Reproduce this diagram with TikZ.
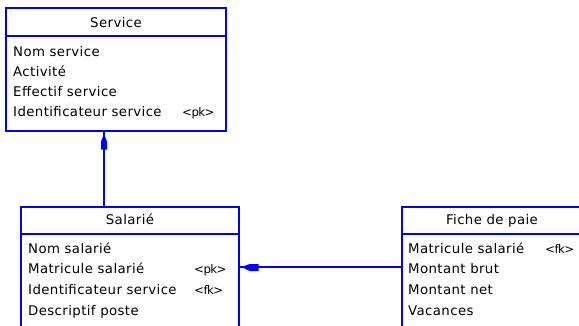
\documentclass[tikz,border=0pt]{standalone}
\usepackage{fontspec}
\setmainfont{DejaVu Sans}[LetterSpace=3]
\newfontfamily\tagfont{DejaVu Sans}[LetterSpace=-5]
\definecolor{eblue}{RGB}{0,0,255}
\begin{document}
\begin{tikzpicture}[x=1pt,y=-1pt,
  entity/.style={draw=eblue, line width=1.3pt, rectangle, inner sep=0pt},
  attr/.style={anchor=base west, inner sep=0pt, font=\fontsize{13.3}{15}\selectfont},
  tagtxt/.style={anchor=base west, inner sep=0pt, font=\tagfont\fontsize{11.8}{14}\selectfont},
  ttl/.style={anchor=base, inner sep=0pt, font=\fontsize{13.3}{15}\selectfont},
  link/.style={draw=eblue, line width=1.3pt},
  tipfill/.style={fill=eblue}]
\useasboundingbox (0,0) rectangle (579,325);

% Service
\node[entity, minimum width=220pt, minimum height=123pt] (service) at (116,69.5) {};
\draw[link] (service.west |- 0,36) -- (service.east |- 0,36);
\node[ttl] (sT) at (116,27) {Service};
\node[attr] (s1) at (13,56.5) {Nom service};
\node[attr] (s2) at (13,76.5) {Activité};
\node[attr] (s3) at (13,96.5) {Effectif service};
\node[attr] (s4) at (13,116.5) {Identificateur service};
\node[tagtxt] (s4k) at (182,116.5) {<pk>};

% Salarie
\node[entity, minimum width=218pt, minimum height=128pt] (salarie) at (130,271) {};
\draw[link] (salarie.west |- 0,234) -- (salarie.east |- 0,234);
\node[ttl] (aT) at (130,224) {Salarié};
\node[attr] (a1) at (28,253) {Nom salarié};
\node[attr] (a2) at (28,273.5) {Matricule salarié};
\node[tagtxt] (a2k) at (194,273.5) {<pk>};
\node[attr] (a3) at (28,294.5) {Identificateur service};
\node[tagtxt] (a3k) at (194,294.5) {<fk>};
\node[attr] (a4) at (28,315.5) {Descriptif poste};

% Fiche de paie
\node[entity, minimum width=180pt, minimum height=128pt] (fiche) at (492,271) {};
\draw[link] (fiche.west |- 0,234) -- (fiche.east |- 0,234);
\node[ttl] (fT) at (492,224) {Fiche de paie};
\node[attr] (f1) at (408,253.5) {Matricule salarié};
\node[tagtxt] (f1k) at (545,253.5) {<fk>};
\node[attr] (f2) at (408,273.5) {Montant brut};
\node[attr] (f3) at (408,294) {Montant net};
\node[attr] (f4) at (408,315) {Vacances};

% connectors
\coordinate (cv) at (104,207);
\coordinate (ch) at (300,267);
\draw[link] (cv |- salarie.north) -- (cv |- service.south);
\fill[tipfill] (cv |- service.south) ++(0,2) -- ++(-3,8) -- ++(0,8) -- ++(6,0) -- ++(0,-8) -- cycle;
\draw[link] (fiche.west |- ch) -- (salarie.east |- ch);
\fill[tipfill] (salarie.east |- ch) ++(2,0) -- ++(8,-3) -- ++(9,0) -- ++(0,7) -- ++(-9,0) -- cycle;
\end{tikzpicture}
\end{document}
